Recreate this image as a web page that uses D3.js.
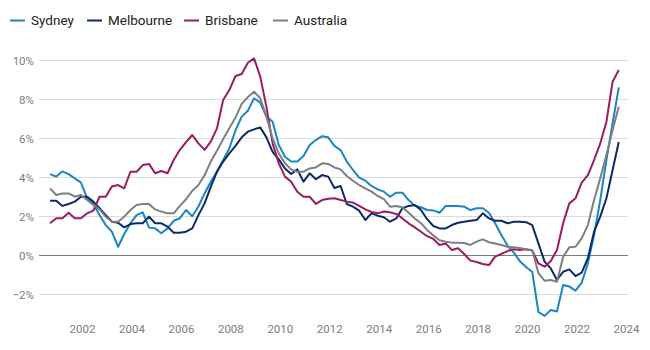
<!DOCTYPE html>
<html>
<head>
<meta charset="utf-8">
<script src="https://cdn.jsdelivr.net/npm/d3@7"></script>
<style>
  html, body { margin: 0; padding: 0; background: #fff; }
  svg { display: block; }
  text { font-family: Roboto, "Liberation Sans", sans-serif; }
</style>
</head>
<body>
<svg id="chart" width="650" height="350"></svg>
<script>
// Quarterly, starting September quarter 2000
const startYear = 2000;
const startMonth = 9;
const seriesNames = ["Sydney", "Melbourne", "Brisbane", "Australia"];
const seriesColors = ["#1b87c2", "#0c2a66", "#981d62", "#7d7f83"];
const yTicks = [-2, 0, 2, 4, 6, 8, 10];
const xTicks = [2002, 2004, 2006, 2008, 2010, 2012, 2014, 2016, 2018, 2020, 2022, 2024];

const sydney = [4.16,4.03,4.3,4.16,3.94,3.72,2.92,2.63,2.06,1.55,1.21,0.44,1.09,1.64,2.06,2.2,
  1.43,1.38,1.13,1.38,1.77,1.9,2.32,2.0,2.5,3.17,3.77,4.28,4.88,5.48,6.4,7.1,7.4,8.04,7.82,7.1,
  6.84,5.65,5.05,4.8,4.8,5.08,5.65,5.9,6.1,6.04,5.6,5.39,4.8,4.37,3.98,3.82,3.55,3.38,3.26,3.0,
  3.21,3.21,2.83,2.54,2.46,2.32,2.3,2.18,2.53,2.53,2.53,2.49,2.32,2.41,2.41,2.18,1.64,1.04,0.5,
  0.15,-0.3,-0.6,-0.85,-2.9,-3.1,-2.8,-2.88,-1.52,-1.6,-1.81,-1.4,-0.41,1.04,2.83,4.88,6.76,8.6];
const melbourne = [2.8,2.8,2.53,2.63,2.75,3.0,3.0,2.75,2.41,2.06,1.72,1.67,1.43,1.6,1.64,1.64,
  1.98,1.64,1.64,1.47,1.16,1.16,1.21,1.38,2.06,2.66,3.5,4.28,4.8,5.22,5.6,6.04,6.33,6.45,6.55,6.04,
  5.3,4.91,4.45,4.16,4.4,3.77,4.2,3.9,4.11,4.03,3.45,3.55,2.63,2.49,2.29,1.81,2.15,2.03,1.95,1.72,
  1.89,2.41,2.53,2.58,2.32,1.85,1.5,1.38,1.38,1.55,1.67,1.72,1.77,1.81,2.15,1.89,1.77,1.77,1.64,
  1.72,1.72,1.7,1.55,0.61,-0.32,-0.67,-1.26,-0.84,-0.72,-1.06,-0.89,-0.15,1.21,1.98,2.92,4.37,5.8];
const brisbane = [1.64,1.9,1.9,2.18,1.9,1.9,2.15,2.29,3.0,3.0,3.52,3.6,3.43,4.28,4.28,4.62,
  4.68,4.2,4.32,4.2,4.88,5.4,5.8,6.16,5.73,5.4,5.82,6.5,7.95,8.46,9.18,9.28,9.86,10.08,9.15,7.6,
  5.73,4.71,4.03,3.77,3.26,3.0,3.0,2.63,2.83,2.9,2.92,2.83,2.75,2.7,2.53,2.35,2.22,2.15,2.24,2.2,
  2.12,1.89,1.64,1.43,1.21,0.98,0.84,0.53,0.61,0.27,0.36,0.07,-0.27,-0.34,-0.44,-0.5,-0.07,0.07,0.22,
  0.31,0.27,0.31,0.24,-0.41,-0.58,-0.29,0.27,1.64,2.66,2.92,3.72,4.11,4.88,5.73,6.84,8.89,9.49];
const australia = [3.43,3.09,3.17,3.17,3.0,3.09,2.83,2.58,2.35,1.98,1.72,1.72,1.98,2.32,2.58,2.63,
  2.63,2.35,2.24,2.15,2.15,2.53,2.87,3.3,3.6,4.1,4.8,5.35,5.95,6.5,7.05,7.75,8.1,8.38,8.04,7.1,
  5.99,5.22,4.71,4.4,4.28,4.28,4.45,4.5,4.71,4.68,4.5,4.4,4.06,3.82,3.6,3.43,3.26,3.04,2.88,2.49,
  2.53,2.46,2.18,1.89,1.64,1.3,1.02,0.77,0.7,0.65,0.65,0.63,0.53,0.7,0.82,0.67,0.61,0.53,0.44,
  0.41,0.38,0.3,0.27,-0.92,-1.3,-1.26,-1.35,-0.07,0.41,0.44,0.87,1.55,2.83,3.94,5.14,6.42,7.61];

const seriesValues = [sydney, melbourne, brisbane, australia];
// decimal-year position of each quarter
const dates = sydney.map((_, i) => startYear + (startMonth - 0.5) / 12 + i * 0.25);

const svg = d3.select("#chart");
const x = d3.scaleLinear().domain([2002, 2024]).range([82, 626]);
const y = d3.scaleLinear().domain([-2, 10]).range([294.4, 60]);

// gridlines
svg.append("g").selectAll("line").data(yTicks).join("line")
  .attr("x1", 39).attr("x2", 628)
  .attr("y1", d => Math.round(y(d)) + 0.5).attr("y2", d => Math.round(y(d)) + 0.5)
  .attr("stroke", d => d === 0 ? "#7a7a7a" : "#dcdcdc")
  .attr("stroke-width", 1);

// y labels
const yAxis = d3.axisLeft(y).tickValues(yTicks).tickSize(0).tickPadding(0)
  .tickFormat(d => (d < 0 ? "\u2212" + Math.abs(d) : d) + "%");
const gy = svg.append("g").attr("transform", "translate(34,0)").call(yAxis);
gy.select(".domain").remove();
gy.selectAll("text").attr("fill", "#7d7d7d").style("font-size", "11.5px")
  .style("font-family", "Roboto, sans-serif").attr("dy", "0.35em");

// x labels
const xAxis = d3.axisBottom(x).tickValues(xTicks).tickSize(0).tickPadding(0).tickFormat(d3.format("d"));
const gx = svg.append("g").attr("transform", "translate(0,325)").call(xAxis);
gx.select(".domain").remove();
gx.selectAll("text").attr("fill", "#7d7d7d").style("font-size", "11.5px")
  .style("font-family", "Roboto, sans-serif");

// lines
const line = d3.line().x((d, i) => x(dates[i])).y(d => y(d));
svg.append("g").selectAll("path").data(seriesValues).join("path")
  .attr("d", d => line(d))
  .attr("fill", "none")
  .attr("stroke", (d, i) => seriesColors[i])
  .attr("stroke-width", 2)
  .attr("stroke-linejoin", "round");

// legend
const legendX = [10, 87, 184, 273];
const lg = svg.append("g").selectAll("g").data(seriesNames).join("g")
  .attr("transform", (d, i) => `translate(${legendX[i]},20.5)`);
lg.append("line").attr("x1", 0).attr("x2", 15).attr("y1", 0).attr("y2", 0)
  .attr("stroke", (d, i) => seriesColors[i]).attr("stroke-width", 2);
lg.append("text").attr("x", 21).attr("dy", "0.35em")
  .style("font-size", "13.5px").attr("fill", "#222").text(d => d);
</script>
</body>
</html>
